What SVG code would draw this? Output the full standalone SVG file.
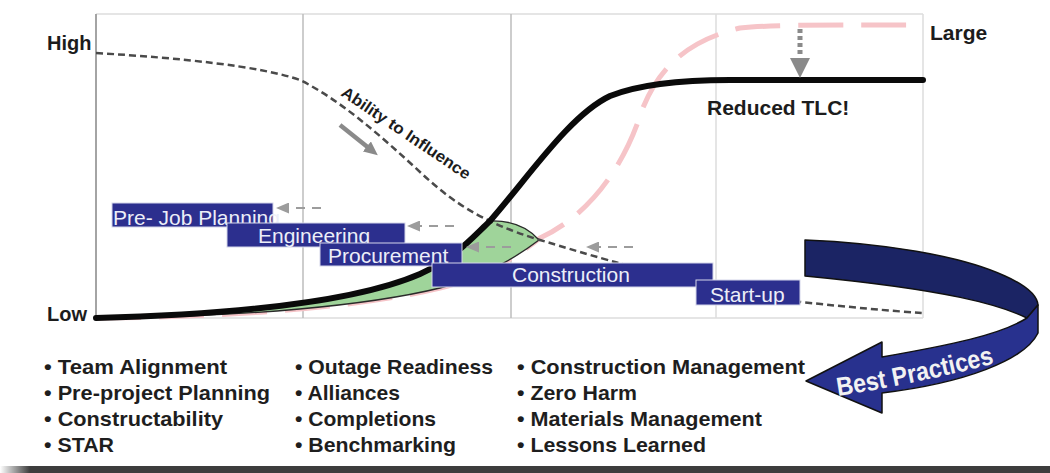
<svg xmlns="http://www.w3.org/2000/svg" width="1050" height="473" viewBox="0 0 1050 473">
  <defs>
    <style>
      .lbl{font-family:"Liberation Sans",Arial,sans-serif;font-weight:bold;fill:#1c1c1c}
      .grid{stroke:#bcbcbc;stroke-width:1.5;fill:none}
      .grid-light{stroke:#dcdcdc;stroke-width:1.5;fill:none}
      .phase rect{fill:#2c2f8e;stroke:#d4d6ea;stroke-width:1}
      .phase text{font-family:"Liberation Sans",Arial,sans-serif;font-size:21px;fill:#eceef8}
      .dash-arrow{stroke:#9c9c9c;stroke-width:2;stroke-dasharray:9 7;fill:none}
      .bul{font-family:"Liberation Sans",Arial,sans-serif;font-weight:bold;font-size:21px;fill:#1e1e1e}
    </style>
    <marker id="grayHead" markerWidth="13" markerHeight="11" refX="13" refY="5.5" orient="auto" markerUnits="userSpaceOnUse">
      <path d="M0,0 L13,5.5 L0,11 Z" fill="#9c9c9c"/>
    </marker>
    <marker id="solidHead" markerWidth="14" markerHeight="13" refX="4" refY="6.5" orient="auto" markerUnits="userSpaceOnUse">
      <path d="M0,0 L14,6.5 L0,13 Z" fill="#8a8a8a"/>
    </marker>
    <linearGradient id="barFade" x1="0" y1="0" x2="30" y2="0" gradientUnits="userSpaceOnUse">
      <stop offset="0" stop-color="#ffffff"/>
      <stop offset="1" stop-color="#3d3d3d"/>
    </linearGradient>
  </defs>

  <rect x="0" y="0" width="1050" height="473" fill="#ffffff"/>

  <!-- chart frame and phase dividers -->
  <g id="frame">
    <line class="grid-light" x1="96" y1="14" x2="923" y2="14"/>
    <line class="grid-light" x1="96" y1="318" x2="923" y2="318"/>
    <line class="grid-light" x1="716" y1="14" x2="716" y2="318"/>
    <line class="grid-light" x1="923" y1="14" x2="923" y2="318"/>
    <line class="grid" x1="303" y1="14" x2="303" y2="318"/>
    <line class="grid" x1="511" y1="14" x2="511" y2="318"/>
    <line stroke="#a4a4a4" stroke-width="2" x1="96" y1="14" x2="96" y2="320"/>
  </g>

  <!-- cost curves -->
  <g id="curves">
    <!-- original total life-cycle cost -->
    <path id="original-tlc" d="M96,318 C250,317 370,305 440,288 C480,278 510,262 540,238 C590,215 625,165 642,110 C660,65 690,40 740,28 C780,24 850,25 923,25"
          fill="none" stroke="#f6c4c8" stroke-width="5" stroke-dasharray="45 18"/>
    <!-- savings lens -->
    <path id="savings" d="M96,318 C250,314 360,300 420,274 C455,258 470,240 490,221 Q522,220 539,240 C510,262 480,278 440,288 C370,305 250,317 96,318 Z"
          fill="#9fd49a" stroke="#2a2a2a" stroke-width="1.3"/>
    <!-- ability to influence -->
    <path id="influence" d="M96,53 C180,58 260,66 300,80 C340,100 380,135 420,172 C450,200 480,222 540,240 C580,252 600,258 615,262 C680,280 760,298 800,302 C850,307 890,311 923,313"
          fill="none" stroke="#4a4a4a" stroke-width="2.5" stroke-dasharray="7 4"/>
    <!-- reduced total life-cycle cost -->
    <path id="reduced-tlc" d="M96,318 C250,314 360,300 420,274 C455,258 470,240 490,221 C530,175 570,115 610,96 C640,84 680,80 730,80 L923,80"
          fill="none" stroke="#0a0a0a" stroke-width="6" stroke-linecap="round"/>
  </g>

  <!-- connectors -->
  <g id="connectors">
    <path class="dash-arrow" d="M321,208 L276,208" marker-end="url(#grayHead)"/>
    <path class="dash-arrow" d="M454,226 L407,226" marker-end="url(#grayHead)"/>
    <path class="dash-arrow" d="M511,247 L466,247" marker-end="url(#grayHead)"/>
    <path class="dash-arrow" d="M633,247 L586,247" marker-end="url(#grayHead)"/>
    <path d="M340,125 L370,149" stroke="#8a8a8a" stroke-width="4.5" fill="none" marker-end="url(#solidHead)"/>
    <path d="M800,29 L800,54" stroke="#8a8a8a" stroke-width="5" stroke-dasharray="4 3" fill="none"/>
    <path d="M790,58 L810,58 L800,78 Z" fill="#8a8a8a"/>
  </g>

  <!-- project phases -->
  <g id="pre-job-planning" class="phase">
    <rect x="112" y="203" width="161" height="24"/>
    <text x="113" y="225">Pre- Job Planning</text>
  </g>
  <g id="engineering" class="phase">
    <rect x="227" y="223" width="178" height="24"/>
    <text x="258" y="243">Engineering</text>
  </g>
  <g id="procurement" class="phase">
    <rect x="320" y="243" width="142" height="23"/>
    <text x="328" y="263">Procurement</text>
  </g>
  <g id="construction" class="phase">
    <rect x="432" y="263" width="281" height="24"/>
    <text x="512" y="282">Construction</text>
  </g>
  <g id="start-up" class="phase">
    <rect x="696" y="280" width="104" height="25"/>
    <text x="710" y="302">Start-up</text>
  </g>

  <!-- best practices ribbon -->
  <g id="best-practices">
    <path d="M805,240 C880,243 960,255 1005,276 C1025,285 1037,295 1038,305 L1027,318 C1000,305 950,290 805,276 Z"
          fill="#1b2464" stroke="#111" stroke-width="1.5" stroke-linejoin="round"/>
    <path d="M1038,305 L1038,333 C1025,360 965,383 882,393 L882,413 L806,381 L882,342 L882,357 C950,345 1000,335 1027,318 Z"
          fill="#28318e" stroke="#111" stroke-width="1.5" stroke-linejoin="round"/>
    <path id="bpBaseline" d="M838,396 Q915,384 1000,362" fill="none"/>
    <text font-family="'Liberation Sans',Arial,sans-serif" font-weight="bold" font-size="26" fill="#f2f2f2">
      <textPath href="#bpBaseline" textLength="160" lengthAdjust="spacingAndGlyphs">Best Practices</textPath>
    </text>
  </g>

  <!-- axis and curve labels -->
  <g id="labels">
    <text class="lbl" x="47" y="50" font-size="20">High</text>
    <text class="lbl" x="47" y="321" font-size="20">Low</text>
    <text class="lbl" x="930" y="40" font-size="21">Large</text>
    <text class="lbl" x="707" y="115" font-size="21">Reduced TLC!</text>
    <text class="lbl" x="340" y="95" font-size="16" transform="rotate(34 340 95)" textLength="152" lengthAdjust="spacingAndGlyphs">Ability to Influence</text>
  </g>

  <!-- best-practice lists -->
  <g id="list-1">
    <text class="bul" x="44" y="374" textLength="183" lengthAdjust="spacingAndGlyphs">• Team Alignment</text>
    <text class="bul" x="44" y="400" textLength="226" lengthAdjust="spacingAndGlyphs">• Pre-project Planning</text>
    <text class="bul" x="44" y="426" textLength="179" lengthAdjust="spacingAndGlyphs">• Constructability</text>
    <text class="bul" x="44" y="452" textLength="70" lengthAdjust="spacingAndGlyphs">• STAR</text>
  </g>
  <g id="list-2">
    <text class="bul" x="295" y="374" textLength="198" lengthAdjust="spacingAndGlyphs">• Outage Readiness</text>
    <text class="bul" x="295" y="400" textLength="105" lengthAdjust="spacingAndGlyphs">• Alliances</text>
    <text class="bul" x="295" y="426" textLength="141" lengthAdjust="spacingAndGlyphs">• Completions</text>
    <text class="bul" x="295" y="452" textLength="161" lengthAdjust="spacingAndGlyphs">• Benchmarking</text>
  </g>
  <g id="list-3">
    <text class="bul" x="517" y="374" textLength="288" lengthAdjust="spacingAndGlyphs">• Construction Management</text>
    <text class="bul" x="517" y="400" textLength="120" lengthAdjust="spacingAndGlyphs">• Zero Harm</text>
    <text class="bul" x="517" y="426" textLength="245" lengthAdjust="spacingAndGlyphs">• Materials Management</text>
    <text class="bul" x="517" y="452" textLength="189" lengthAdjust="spacingAndGlyphs">• Lessons Learned</text>
  </g>

  <rect id="footer-bar" x="0" y="466" width="1050" height="7" fill="url(#barFade)"/>
</svg>
